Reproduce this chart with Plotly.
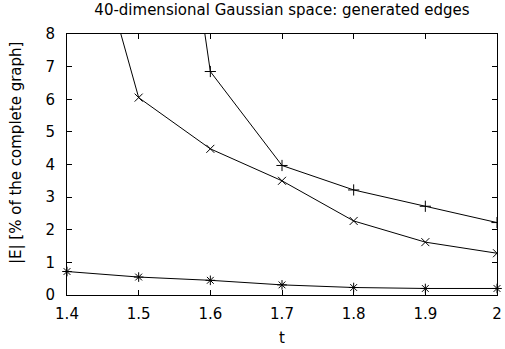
import plotly.graph_objects as go

t = [1.4, 1.5, 1.6, 1.7, 1.8, 1.9, 2.0]
plus_x = [1.5, 1.6, 1.7, 1.8, 1.9, 2.0]
plus_y = [22.0, 6.85, 3.97, 3.22, 2.72, 2.22]
cross_x = [1.4, 1.5, 1.6, 1.7, 1.8, 1.9, 2.0]
cross_y = [13.9, 6.05, 4.48, 3.5, 2.27, 1.62, 1.28]
star_y = [0.72, 0.55, 0.45, 0.31, 0.23, 0.2, 0.2]
x_ticks = [1.4, 1.5, 1.6, 1.7, 1.8, 1.9, 2.0]
x_ticktext = ["1.4", "1.5", "1.6", "1.7", "1.8", "1.9", "2"]

fig = go.Figure()
fig.add_trace(go.Scatter(x=plus_x, y=plus_y, mode="lines+markers", cliponaxis=True,
                         line=dict(color="black", width=1),
                         marker=dict(symbol="cross-thin", size=8, line=dict(color="black", width=1))))
fig.add_trace(go.Scatter(x=cross_x, y=cross_y, mode="lines+markers", cliponaxis=True,
                         line=dict(color="black", width=1),
                         marker=dict(symbol="x-thin", size=8, line=dict(color="black", width=1))))
fig.add_trace(go.Scatter(x=t, y=star_y, mode="lines+markers", cliponaxis=False,
                         line=dict(color="black", width=1),
                         marker=dict(symbol="asterisk", size=8, line=dict(color="black", width=1))))

FS = 15
axis_common = dict(showgrid=False, zeroline=False, showline=True, linecolor="black",
                   linewidth=1, mirror="ticks", ticks="inside", ticklen=5, automargin=False,
                   tickcolor="black", tickfont=dict(size=FS, color="black"))
L, R, T, B = 67, 8, 34, 54
pw, ph = 505 - L - R, 349 - T - B
fig.update_layout(
    width=505, height=349,
    margin=dict(l=L, r=R, t=T, b=B),
    paper_bgcolor="white", plot_bgcolor="white",
    showlegend=False,
    font=dict(family="DejaVu Sans, Liberation Sans, sans-serif", size=FS, color="black"),
    title=dict(text="40-dimensional Gaussian space: generated edges", x=0.5, xref="paper",
               xanchor="center", y=1 - 10 / 349, yanchor="middle", font=dict(size=FS)),
    xaxis=dict(range=[1.4, 2.0], tickvals=x_ticks, ticktext=x_ticktext,
               ticklabelstandoff=5, **axis_common),
    yaxis=dict(range=[0, 8], dtick=1, ticklabelstandoff=8, **axis_common),
    annotations=[
        dict(text="t", xref="paper", yref="paper", x=0.5, y=-(338 - 295) / ph,
             xanchor="center", yanchor="middle", showarrow=False, font=dict(size=FS)),
        dict(text="|E| [% of the complete graph]", xref="paper", yref="paper",
             x=(16 - L) / pw, y=(295 - 153) / ph, textangle=-90,
             xanchor="center", yanchor="middle", showarrow=False, font=dict(size=FS)),
    ],
)
fig.write_html("out.html")
